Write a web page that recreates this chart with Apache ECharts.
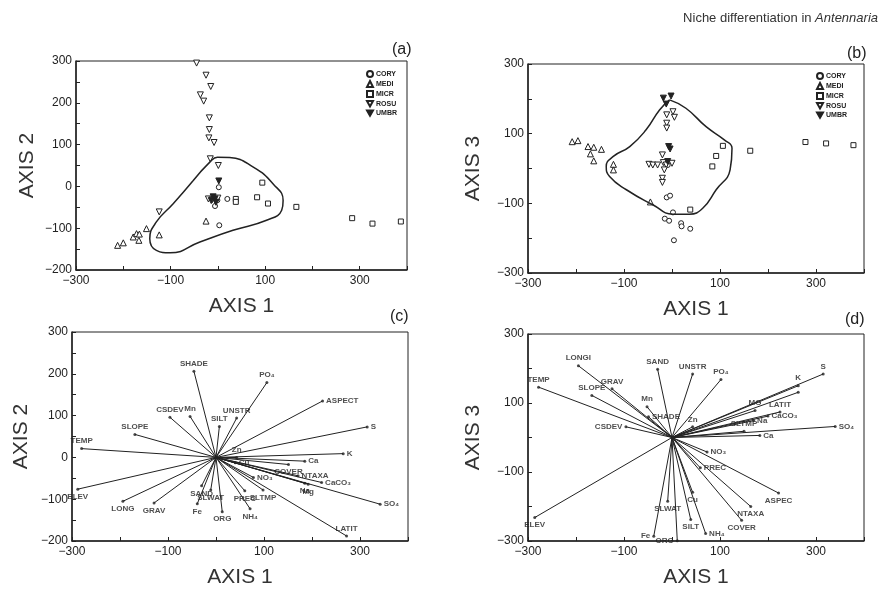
<!DOCTYPE html>
<html>

<head>
  <meta charset="utf-8" />
  <script src="https://cdn.jsdelivr.net/npm/echarts@6/dist/echarts.min.js"></script>
  <style>
    body { margin: 0; background: #fff; }
    #chart { width: 882px; height: 589px; }
  </style>
</head>

<body>
  <div id="chart"></div>
  <script type="text/javascript">
    // ---- panel (a): axis 1 vs axis 2 scores ----
    const coryA = [[2, -2], [-6, -47], [20, -30], [3, -93], [-1, -33]];
    const mediA = [[-212, -141], [-200, -135], [-179, -121], [-172, -113], [-166, -114], [-167, -129], [-151, -101], [-124, -116], [-25, -83]];
    const micrA = [[38, -30], [38, -37], [83, -26], [94, 9], [106, -41], [166, -49], [284, -76], [327, -89], [387, -84]];
    const rosuA = [[-45, 295], [-25, 266], [-15, 239], [-37, 219], [-30, 204], [-18, 164], [-18, 136], [-19, 116], [-8, 105], [-16, 66], [1, 50], [-124, -61], [-20, -30], [-12, -32], [-5, -34], [0, -28]];
    const umbrA = [[2, 13], [-10, -25], [-6, -30], [-14, -34], [-4, -38]];
    const hullA = [[-52, 14], [-17, 58], [-1, 70], [25, 69], [75, 46], [117, 6], [138, -34], [135, -57], [103, -81], [32, -105], [-38, -133], [-101, -159], [-130, -153], [-144, -125], [-130, -85], [-94, -41], [-52, 14]];

    // ---- panel (b): axis 1 vs axis 3 scores ----
    const coryB = [[-11, -83], [-4, -78], [2, -126], [-15, -144], [-6, -150], [19, -157], [20, -166], [38, -173], [4, -206], [-9, 10]];
    const mediB = [[-208, 77], [-196, 80], [-175, 63], [-163, 61], [-147, 55], [-170, 42], [-163, 22], [-122, 12], [-122, -4], [-45, -96]];
    const micrB = [[38, -118], [84, 6], [92, 36], [106, 65], [163, 51], [278, 76], [321, 72], [378, 67]];
    const rosuB = [[-20, 39], [-48, 12], [-40, 10], [-30, 10], [-18, 17], [-12, 10], [-16, -4], [0, 15], [-20, -28], [-20, -40], [-11, 154], [2, 163], [5, 147], [-11, 130], [-11, 116]];
    const umbrB = [[-18, 202], [-2, 208], [-12, 185], [-7, 63], [-4, 56], [-9, 20]];
    const hullB = [[-5, 197], [29, 173], [71, 120], [109, 82], [125, 58], [121, -4], [92, -61], [64, -114], [36, -131], [2, -131], [-40, -104], [-95, -61], [-130, -23], [-137, 6], [-123, 34], [-88, 63], [-54, 111], [-26, 168], [-5, 197]];

    // ---- panel (c): environmental vectors, axis 1 vs axis 2 ----
    const namesC = ['SHADE', 'PO₄', 'ASPECT', 'S', 'UNSTR', 'SILT', 'Mn', 'CSDEV', 'SLOPE', 'TEMP', 'K', 'Ca', 'Zn', 'Cu', 'COVER', 'NTAXA', 'CaCO₃', 'Na', 'Mg', 'SO₄', 'LATIT', 'SLTMP', 'NO₃', 'PREC', 'NH₄', 'ORG', 'SLWAT', 'SAND', 'Fe', 'GRAV', 'LONG', 'ELEV'];
    const endsC = [[-46, 206], [106, 179], [222, 135], [315, 73], [43, 94], [7, 74], [-54, 98], [-96, 96], [-169, 55], [-280, 21], [265, 9], [185, -9], [43, 0], [40, -13], [151, -17], [171, -44], [220, -60], [185, -62], [192, -64], [342, -112], [272, -188], [98, -78], [78, -48], [60, -80], [71, -123], [13, -130], [-11, -78], [-30, -68], [-39, -111], [-129, -109], [-194, -105], [-288, -76]];

    // ---- panel (d): environmental vectors, axis 1 vs axis 3 ----
    const namesD = ['LONGI', 'TEMP', 'GRAV', 'SLOPE', 'Mn', 'SHADE', 'CSDEV', 'SAND', 'UNSTR', 'PO₄', 'S', 'K', '', 'MG', 'LATIT', 'CaCO₃', 'Na', 'SO₄', 'SLTMP', 'Ca', 'Zn', 'NO₃', 'PREC', 'ASPEC', 'NTAXA', 'COVER', 'NH₄', 'SILT', 'Cu', 'SLWAT', 'ORG', 'Fe', 'ELEV'];
    const endsD = [[-195, 208], [-278, 146], [-125, 141], [-167, 122], [-52, 89], [-49, 60], [-96, 31], [-30, 198], [43, 184], [102, 168], [315, 184], [263, 150], [263, 131], [173, 78], [225, 74], [200, 62], [170, 49], [340, 32], [150, 18], [183, 6], [43, 31], [73, -42], [59, -88], [222, -161], [164, -200], [145, -240], [70, -278], [39, -238], [43, -159], [-9, -185], [11, -299], [-38, -286], [-286, -232]];

    const species = ['CORY', 'MEDI', 'MICR', 'ROSU', 'UMBR'];
    const xLabels = [-300, -100, 100, 300];

    // label placement exceptions (default: right for flat right-pointing, else top/bottom)
    const sideC = { 'COVER': 'bottom', 'Na': 'bottom', 'Mg': 'bottom', 'LATIT': 'top', 'Zn': 'top' };
    const sideD = { 'CSDEV': 'left', 'SHADE': 'right', 'K': 'top', 'S': 'top', 'LATIT': 'top', 'SLTMP': 'top', 'PREC': 'right', 'NH₄': 'right', 'ORG': 'left', 'Fe': 'left', 'MG': 'top' };

    const ink = '#222';
    const downTri = 'path://M0,0 L10,0 L5,9 Z';
    const symbols = {
      CORY: { symbol: 'circle', size: 5, fill: '#fff' },
      MEDI: { symbol: 'triangle', size: 6, fill: '#fff' },
      MICR: { symbol: 'rect', size: 5, fill: '#fff' },
      ROSU: { symbol: downTri, size: 6, fill: '#fff' },
      UMBR: { symbol: downTri, size: 6, fill: ink }
    };

    const chart = echarts.init(document.getElementById("chart"));

    const grids = [
      { left: 76, top: 61, width: 331, height: 209 },
      { left: 528, top: 64, width: 336, height: 209 },
      { left: 72, top: 332, width: 336, height: 210 },
      { left: 528, top: 334, width: 336, height: 210 }
    ].map(g => Object.assign(g, { show: true, borderColor: ink, borderWidth: 1 }));

    function xAxis(gi) {
      return {
        gridIndex: gi, type: 'value', min: -300, max: 400, interval: 100,
        axisLine: { onZero: false, lineStyle: { color: ink, width: 1.5 } },
        axisTick: { inside: true, length: 4, lineStyle: { color: ink } },
        splitLine: { show: false },
        axisLabel: {
          formatter: v => xLabels.includes(v) ? String(v).replace('-', '−') : '',
          fontSize: 12, color: ink, margin: 5, fontFamily: 'Liberation Sans'
        },
        name: 'AXIS 1', nameLocation: 'middle', nameGap: 26,
        nameTextStyle: { fontSize: 21, color: '#333', fontFamily: 'Liberation Sans' }
      };
    }

    function yAxis(gi, min, interval, name, gap) {
      return {
        gridIndex: gi, type: 'value', min: min, max: 300, interval: interval,
        axisLine: { onZero: false, lineStyle: { color: ink, width: 1.5 } },
        axisTick: { inside: true, length: 4, lineStyle: { color: ink } },
        splitLine: { show: false },
        axisLabel: {
          formatter: v => (v % 100 === 0 && (interval === 50 || v % 200 !== 0)) ? String(v).replace('-', '−') : '',
          fontSize: 12, color: ink, margin: 4, fontFamily: 'Liberation Sans'
        },
        name: name, nameLocation: 'middle', nameGap: gap,
        nameTextStyle: { fontSize: 21, color: '#333', fontFamily: 'Liberation Sans' }
      };
    }

    function scatterSeries(gi, name, data) {
      const s = symbols[name];
      return {
        name: name, type: 'scatter', xAxisIndex: gi, yAxisIndex: gi,
        symbol: s.symbol, symbolSize: s.size, data: data,
        itemStyle: { color: s.fill, borderColor: ink, borderWidth: 1, opacity: 1 }
      };
    }

    function hullSeries(gi, data) {
      return {
        type: 'line', xAxisIndex: gi, yAxisIndex: gi, data: data, smooth: 0.5,
        showSymbol: false, silent: true,
        lineStyle: { color: ink, width: 1.5 }
      };
    }

    function side(name, p, over) {
      if (over[name]) return over[name];
      if (p[0] > 0 && Math.abs(p[1]) < 0.7 * p[0]) return 'right';
      return p[1] >= 0 ? 'top' : 'bottom';
    }

    function vectorSeries(gi, names, ends, over) {
      return [
        {
          type: 'lines', coordinateSystem: 'cartesian2d', xAxisIndex: gi, yAxisIndex: gi,
          data: ends.map(p => ({ coords: [[0, 0], p] })),
          lineStyle: { color: ink, width: 1, opacity: 1 }, silent: true
        },
        {
          type: 'scatter', xAxisIndex: gi, yAxisIndex: gi, symbolSize: 3,
          itemStyle: { color: ink },
          data: ends.map((p, i) => ({
            value: p, name: names[i],
            label: { position: side(names[i], p, over) }
          })),
          label: {
            show: true, formatter: '{b}', fontSize: 8, fontWeight: 'bold', color: ink,
            distance: 2, fontFamily: 'Liberation Sans Narrow, Liberation Sans'
          }
        }
      ];
    }

    function legend(left, top) {
      return {
        data: species, orient: 'vertical', left: left, top: top,
        itemWidth: 6, itemHeight: 6, itemGap: 2, padding: 0,
        textStyle: { fontSize: 7, fontWeight: 'bold', color: ink, padding: [0, 0, 0, -2] }
      };
    }

    function panelTag(text, left, top) {
      return {
        text: text, left: left, top: top, padding: 0,
        textStyle: { fontSize: 16, fontWeight: 'normal', color: ink, fontFamily: 'Liberation Sans' }
      };
    }

    var option = {
      animation: false,
      backgroundColor: '#fff',
      title: [
        {
          text: '{n|Niche differentiation in }{i|Antennaria}', right: 4, top: 12, padding: 0,
          textStyle: {
            fontWeight: 'normal',
            rich: {
              n: { fontSize: 13, color: '#333', fontWeight: 'normal', fontFamily: 'Liberation Sans' },
              i: { fontSize: 13, color: '#333', fontWeight: 'normal', fontStyle: 'italic', fontFamily: 'Liberation Sans' }
            }
          }
        },
        panelTag('(a)', 392, 42),
        panelTag('(b)', 847, 46),
        panelTag('(c)', 390, 309),
        panelTag('(d)', 845, 312)
      ],
      legend: [legend(366, 70), legend(816, 72)],
      grid: grids,
      xAxis: [xAxis(0), xAxis(1), xAxis(2), xAxis(3)],
      yAxis: [
        yAxis(0, -200, 50, 'AXIS 2', 38),
        yAxis(1, -300, 100, 'AXIS 3', 44),
        yAxis(2, -200, 50, 'AXIS 2', 40),
        yAxis(3, -300, 100, 'AXIS 3', 44)
      ],
      series: [
        hullSeries(0, hullA),
        scatterSeries(0, 'CORY', coryA),
        scatterSeries(0, 'MEDI', mediA),
        scatterSeries(0, 'MICR', micrA),
        scatterSeries(0, 'ROSU', rosuA),
        scatterSeries(0, 'UMBR', umbrA),
        hullSeries(1, hullB),
        scatterSeries(1, 'CORY', coryB),
        scatterSeries(1, 'MEDI', mediB),
        scatterSeries(1, 'MICR', micrB),
        scatterSeries(1, 'ROSU', rosuB),
        scatterSeries(1, 'UMBR', umbrB),
        ...vectorSeries(2, namesC, endsC, sideC),
        ...vectorSeries(3, namesD, endsD, sideD)
      ]
    };

    chart.setOption(option);

    window.onresize = () => {
      chart?.resize();
    };
  </script>
</body>

</html>
